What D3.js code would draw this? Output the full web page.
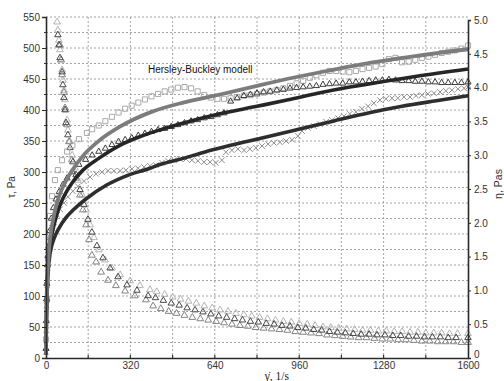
<!DOCTYPE html>
<html><head><meta charset="utf-8">
<script src="https://cdn.jsdelivr.net/npm/d3@7"></script>
<style>
html,body{margin:0;padding:0;background:#fff;}
svg{display:block;}
</style></head>
<body>
<svg id="chart" width="504" height="381"></svg>
<script>
// ---------- DATA ----------
const xTicks = [0, 320, 640, 960, 1280, 1600];
const leftTicks = [0, 50, 100, 150, 200, 250, 300, 350, 400, 450, 500, 550];
const rightTicks = [0, 0.5, 1.0, 1.5, 2.0, 2.5, 3.0, 3.5, 4.0, 4.5, 5.0];
const modelLabel = "Hersley-Buckley modell";

// shear stress data (tau, Pa) vs shear rate (1/s)
const sqGamma = [0,4,8,11,15,23,34,45,61,80,100,125,155,175,200,225,250,275,300,325,350,375,400,425,450,475,500,525,550,575,600,625,650,675,700,725,750,775,800,825,850,875,900,925,950,975,1000,1025,1050,1075,1100,1125,1150,1175,1200,1225,1250,1275,1300,1325,1350,1375,1400,1425,1450,1475,1500,1525,1550,1575,1600];
const sqTau   = [30,95,160,198,229,261,287,303,319,333,343,353,363,369,375,382,389,396,402,407,412,417,422,426,430,433,436,437,435,430,424,420,418,418,419,421,423,424,426,428,430,432,435,439,443,447,452,456,460,463,463,462,461,463,466,468,470,474,482,484,477,478,481,484,486,489,492,494,496,499,504];

const triGamma = [0,1,2,3,5,7,10,14,20,28,38,50,65,80,100,125,150,175,200,225,250,275,300,325,350,375,400,425,450,475,500,525,550,575,600,625,650,675,700,725,750,775,800,825,850,875,900,925,950,975,1000,1025,1050,1075,1100,1125,1150,1175,1200,1225,1250,1275,1300,1325,1350,1375,1400,1425,1450,1475,1500,1525,1550,1575,1600];
const triTau   = [15,60,95,120,150,165,180,205,225,242,256,268,280,290,300,312,320,327,333,338,344,349,352,355,359,362,365,368,370,373,376,379,382,384,387,389,392,395,414,419,423,425,427,429,430,432,433,435,436,437,438,439,441,442,443,443,445,445,446,447,448,448,449,448,447,447,446,446,445,445,444,444,444,444,445];

const crGamma = [0,1,2,4,6,8,11,15,23,30,42,53,68,83,102,121,144,167,190,212,235,258,281,303,326,349,372,394,417,440,463,485,508,531,553,576,599,622,644,667,682,705,728,751,773,796,819,842,864,887,910,933,955,971,993,1016,1039,1062,1084,1107,1130,1152,1175,1198,1221,1243,1266,1289,1312,1334,1357,1380,1403,1425,1448,1471,1494,1516,1539,1562,1585,1600];
const crTau   = [10,45,85,118,145,166,182,195,210,219,231,240,250,260,269,277,285,292,297,300,302,302,302,303,305,306,308,310,311,315,318,319,321,321,319,318,316,316,315,319,332,335,337,335,337,339,342,345,347,348,350,352,358,366,371,374,377,381,384,387,390,394,397,402,406,411,416,418,419,419,421,421,423,424,426,427,429,431,432,434,435,437];

// Herschel-Bulkley model curves
const modelGammaA = [0,1,2,4,7,10,15,22,30,45,60,80,100,140,200,280,400,520,660,800,936,1077,1200,1400,1600];
const modelTauA   = [5,60,85,115,145,165,190,212,230,255,272,289,303,326,350,373,397,412,425,439,452,464,474,487,498];
const modelGammaB = [0,1,3,6,10,16,25,35,50,65,80,100,140,200,280,350,432,546,660,800,914,1030,1152,1280,1400,1600];
const modelTauB   = [5,55,110,140,160,183,205,222,243,258,270,283,303,322,343,356,368,382,394,406,416,427,437,446,454,466];
const modelGammaC = [0,1,2,4,6,9,14,21,30,50,75,104,150,230,300,394,432,520,600,700,811,950,1088,1230,1350,1480,1600];
const modelTauC   = [5,40,65,100,122,145,165,180,192,210,226,239,256,279,293,306,312,322,332,343,354,368,382,396,406,415,423];

// viscosity data (eta, Pa s)
const eta1Gamma = [42,45,49,53,57,61,64,68,72,76,80,83,91,99,110,121,137,152,167,182,201,224,250,281,319,356,394,420,450,480,510,540,570,600,630,660,690,720,750,780,810,840,870,900,930,960,990,1020,1050,1080,1110,1140,1170,1200,1230,1260,1290,1320,1350,1380,1410,1440,1470,1500,1530,1560,1600];
const eta1      = [4.97,4.85,4.70,4.56,4.41,4.26,4.11,3.96,3.82,3.67,3.52,3.37,3.20,3.00,2.81,2.63,2.41,2.19,1.97,1.78,1.60,1.45,1.33,1.23,1.14,1.07,1.01,0.98,0.94,0.90,0.87,0.84,0.81,0.77,0.74,0.71,0.69,0.66,0.64,0.62,0.60,0.58,0.56,0.54,0.53,0.51,0.50,0.48,0.46,0.45,0.44,0.43,0.42,0.41,0.41,0.40,0.40,0.39,0.39,0.38,0.38,0.37,0.37,0.37,0.36,0.36,0.36];
const eta2Gamma = [45,49,53,61,64,68,72,76,83,91,102,114,129,144,159,174,193,216,243,273,307,345,387,415,445,475,505,535,565,595,625,655,685,715,745,775,805,835,865,895,925,955,985,1015,1045,1075,1105,1135,1165,1195,1225,1255,1285,1315,1345,1375,1405,1435,1465,1495,1525,1555,1600];
const eta2      = [4.78,4.63,4.44,4.23,4.04,3.85,3.67,3.48,3.30,3.11,2.90,2.71,2.49,2.27,2.05,1.86,1.66,1.48,1.33,1.20,1.08,1.00,0.92,0.89,0.85,0.81,0.78,0.74,0.71,0.68,0.65,0.62,0.60,0.58,0.56,0.54,0.53,0.51,0.50,0.48,0.47,0.45,0.44,0.42,0.41,0.39,0.38,0.37,0.36,0.35,0.35,0.34,0.34,0.33,0.33,0.32,0.32,0.31,0.31,0.31,0.30,0.30,0.30];
const eta3Gamma = [53,57,61,68,72,80,87,98,114,129,140,152,163,174,190,209,235,265,300,337,379,406,435,465,495,525,555,585,615,645,675,705,735,765,795,825,855,885,915,945,975,1005,1035,1065,1095,1125,1155,1185,1215,1245,1275,1305,1335,1365,1395,1425,1455,1485,1515,1545,1575,1600];
const eta3      = [4.63,4.41,4.19,3.93,3.70,3.45,3.20,2.93,2.66,2.41,2.19,1.97,1.75,1.52,1.42,1.27,1.15,1.07,0.99,0.92,0.86,0.77,0.73,0.69,0.66,0.63,0.60,0.58,0.56,0.54,0.52,0.50,0.48,0.47,0.45,0.44,0.43,0.42,0.41,0.39,0.38,0.37,0.36,0.34,0.33,0.32,0.31,0.30,0.30,0.29,0.28,0.28,0.27,0.27,0.26,0.25,0.25,0.24,0.24,0.24,0.23,0.23];

// ---------- CHART ----------
const svg = d3.select("#chart");
const x  = d3.scaleLinear().domain([0,1600]).range([46,468]);
const yL = d3.scaleLinear().domain([0,550]).range([358,17]);
const yR = d3.scaleLinear().domain([0,5]).range([358,20]);

// grid
const grid = svg.append("g").attr("stroke","#9a9a9a").attr("stroke-width",0.9).attr("stroke-dasharray","2,2");
d3.range(25, 551, 25).forEach(v => {
  grid.append("line").attr("x1",x(0)).attr("x2",x(1600)).attr("y1",yL(v)).attr("y2",yL(v));
});
d3.range(160, 1600, 160).forEach(v => {
  grid.append("line").attr("x1",x(v)).attr("x2",x(v)).attr("y1",yL(550)).attr("y2",yL(0));
});

const zip = (a,b) => a.map((g,i)=>[g,b[i]]);
const symX = d3.symbolTimes || d3.symbolX || d3.symbolCross;

function markers(data, yScale, type, size, color, sw){
  const sym = d3.symbol().type(type).size(size);
  svg.append("g").selectAll("path").data(data).join("path")
    .attr("d", sym)
    .attr("transform", d => `translate(${x(d[0])},${yScale(d[1])})`)
    .attr("fill","none").attr("stroke",color).attr("stroke-width",sw);
}

// viscosity markers
markers(zip(eta1Gamma,eta1), yR, d3.symbolTriangle, 20, "#b4b4b4", 1);
markers(zip(eta3Gamma,eta3), yR, d3.symbolTriangle, 20, "#858585", 1);
markers(zip(eta2Gamma,eta2), yR, d3.symbolTriangle, 18, "#4a4a4a", 1);

// shear stress markers
markers(zip(sqGamma,sqTau), yL, d3.symbolSquare, 26, "#a9a9a9", 1);
markers(zip(crGamma,crTau), yL, symX, 22, "#8f8f8f", 1);
markers(zip(triGamma,triTau), yL, d3.symbolTriangle, 16, "#3c3c3c", 1);

// model lines
const line = d3.line().x(d=>x(d[0])).y(d=>yL(d[1])).curve(d3.curveMonotoneX);
svg.append("path").datum(zip(modelGammaC,modelTauC)).attr("d",line)
  .attr("fill","none").attr("stroke","#2e2e2e").attr("stroke-width",3.6);
svg.append("path").datum(zip(modelGammaB,modelTauB)).attr("d",line)
  .attr("fill","none").attr("stroke","#262626").attr("stroke-width",3.6);
svg.append("path").datum(zip(modelGammaA,modelTauA)).attr("d",line)
  .attr("fill","none").attr("stroke","#7c7c7c").attr("stroke-width",3.8);

// axes
const tickFont = "Arial, 'Liberation Sans', sans-serif";
const axL = svg.append("g").attr("transform",`translate(${x(0)},0)`)
  .call(d3.axisLeft(yL).tickValues(leftTicks).tickSize(4).tickPadding(2).tickFormat(d3.format("d")));
const axR = svg.append("g").attr("transform",`translate(${x(1600)},0)`)
  .call(d3.axisRight(yR).tickValues(rightTicks).tickSize(3).tickPadding(3)
    .tickFormat(d => d===0 ? "0" : d3.format(".1f")(d)));
const axB = svg.append("g").attr("transform",`translate(0,${yL(0)})`)
  .call(d3.axisBottom(x).tickValues(xTicks).tickSize(0).tickPadding(4).tickFormat(d3.format("d")));
// inner minor ticks on x axis
svg.append("g").selectAll("line").data(d3.range(160,1600,160)).join("line")
  .attr("x1",d=>x(d)).attr("x2",d=>x(d)).attr("y1",yL(0)).attr("y2",yL(0)-3)
  .attr("stroke","#333").attr("stroke-width",1.2);
// minor left ticks
svg.append("g").selectAll("line").data(d3.range(25,551,50)).join("line")
  .attr("x1",x(0)-2).attr("x2",x(0)).attr("y1",d=>yL(d)).attr("y2",d=>yL(d))
  .attr("stroke","#333");

[axL,axR,axB].forEach(a=>{
  a.select(".domain").attr("stroke","#2a2a2a").attr("stroke-width",1.6);
  a.selectAll(".tick line").attr("stroke","#2a2a2a");
  a.selectAll("text").attr("font-family",tickFont).attr("font-size",10).attr("fill","#333");
});
axR.select(".tick:first-of-type text").attr("dy","-0.05em");

// axis titles
svg.append("text").attr("transform","translate(15,187) rotate(-90)")
  .attr("text-anchor","middle").attr("font-family",tickFont).attr("font-size",10).attr("fill","#333")
  .text("τ, Pa");
svg.append("text").attr("transform","translate(502,184) rotate(-90)")
  .attr("text-anchor","middle").attr("font-family",tickFont).attr("font-size",10.5).attr("fill","#333")
  .text("η, Pas");
svg.append("text").attr("x",289).attr("y",380).attr("text-anchor","end")
  .attr("font-family","'Liberation Serif', 'DejaVu Serif', serif").attr("font-size",11.5).attr("fill","#222")
  .text("γ̇, 1/s");

// model label
svg.append("text").attr("x",148).attr("y",73)
  .attr("font-family",tickFont).attr("font-size",10).attr("fill","#111")
  .text(modelLabel);
</script>
</body></html>
